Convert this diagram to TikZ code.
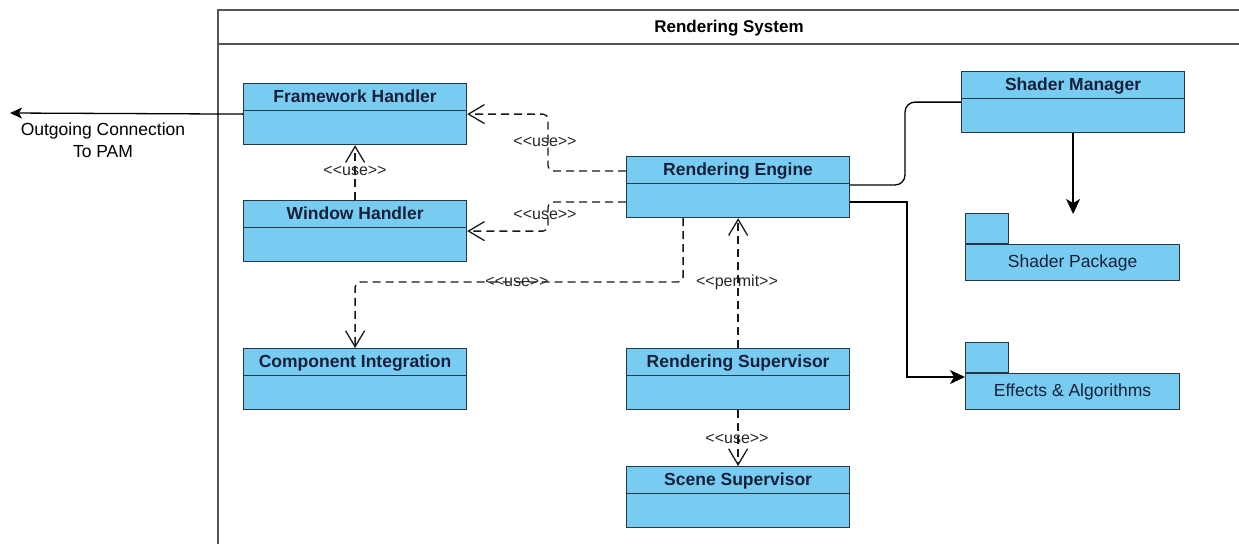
\documentclass[tikz,border=0pt]{standalone}
\usepackage{fontspec}
\setmainfont{Liberation Sans}
\usepackage{tikz}
\usetikzlibrary{arrows.meta}
\definecolor{boxfill}{RGB}{120,204,242}
\definecolor{boxline}{RGB}{38,56,72}
\definecolor{boxtext}{RGB}{22,32,58}
\definecolor{framegray}{RGB}{85,85,85}
\newcommand{\Stereo}[1]{<\kern0pt<#1>\kern0pt>}
\tikzset{
  classbox/.style = {draw=boxline, fill=boxfill, line width=1.2pt, anchor=north west,
    minimum width=223pt, inner xsep=4pt, inner ysep=0pt, text height=19pt, text depth=42pt,
    text=boxtext, font=\bfseries\fontsize{17.5}{20}\selectfont,
    path picture={\draw[boxline, line width=1.2pt] ([yshift=-27pt]path picture bounding box.north west) -- ([yshift=-27pt]path picture bounding box.north east);}},
  pkgbody/.style = {draw=boxline, fill=boxfill, line width=1.2pt, anchor=north west,
    minimum width=214pt, minimum height=36pt, text=boxtext, font=\fontsize{17.5}{20}\selectfont},
  pkgtab/.style = {draw=boxline, fill=boxfill, line width=1.2pt, anchor=south west,
    minimum width=43pt, minimum height=30pt, inner sep=0pt},
  dep/.style = {draw=black!90, line width=1.3pt, dash pattern=on 8pt off 5pt, rounded corners=5pt,
    -{Straight Barb[length=16pt,width=19pt]}},
  flow/.style = {draw=black, line width=1.3pt, -{Stealth[length=15pt,width=14pt,inset=4pt]}},
  link/.style = {draw=black, line width=1.3pt, rounded corners=10pt},
  lbl/.style = {inner sep=0pt, text=black!85, font=\fontsize{16}{18}\selectfont}
}

\begin{document}
\begin{tikzpicture}[x=1pt,y=-1pt]
\useasboundingbox (0,0) rectangle (1239,544);
% system frame
\draw[framegray, line width=1.6pt] (1239,10) -- (218,10) -- (218,544);
\draw[framegray, line width=1.6pt] (218,44) -- (1239,44);
\node[font=\bfseries\fontsize{17}{20}\selectfont] (title) at (729,28) {Rendering System};

% classes
\node[classbox] (fh) at (243,83) {Framework Handler};
\node[classbox] (wh) at (243,200) {Window Handler};
\node[classbox] (re) at (626,156) {Rendering Engine};
\node[classbox] (sm) at (961,71) {Shader Manager};
\node[classbox] (ci) at (243,348) {Component Integration};
\node[classbox] (rs) at (626,348) {Rendering Supervisor};
\node[classbox] (ss) at (626,466) {Scene Supervisor};

% packages
\node[pkgbody] (sp) at (965,244) {Shader Package};
\node[pkgtab] (sptab) at (sp.north west) {};
\node[pkgbody] (ea) at (965,373) {Effects \& Algorithms};
\node[pkgtab] (eatab) at (ea.north west) {};

% outgoing
\coordinate (pam) at (10,113);
\draw[flow, -{Stealth[length=12pt,width=11pt,inset=3pt]}] (fh.west) -- (pam);
\node[align=center, font=\fontsize{17.5}{22}\selectfont] (pamtxt) at (103,140) {Outgoing Connection\\To PAM};

% dependencies
\draw[dep] (re.west |- 0,171) -- (548,171) |- (fh.east);
\node[lbl] (u1) at (545,142) {\Stereo{use}};
\draw[dep] (re.west |- 0,202) -- (548,202) |- (wh.east);
\node[lbl] (u2) at (545,215) {\Stereo{use}};
\draw[dep] (wh.north) -- (fh.south);
\node[lbl] (u3) at (355,171) {\Stereo{use}};
\draw[dep] ([xshift=-55pt]re.south) |- (ci.north |- 0,282) -- (ci.north);
\node[lbl] (u4) at (517,282) {\Stereo{use}};
\draw[dep] (rs.north) -- (re.south);
\node[lbl] (p1) at (737,282) {\Stereo{permit}};
\draw[dep] (rs.south) -- (ss.north);
\node[lbl] (u5) at (737,439) {\Stereo{use}};

% shader side
\draw[link] (re.east |- 0,185) -- (905,185) |- (sm.west);
\coordinate (smend) at (sm.south |- 0,214);
\draw[flow] (sm.south) -- (smend);
\draw[flow] (re.east |- 0,202) -- (907,202) |- (ea.west |- 0,377);
\end{tikzpicture}
\end{document}
